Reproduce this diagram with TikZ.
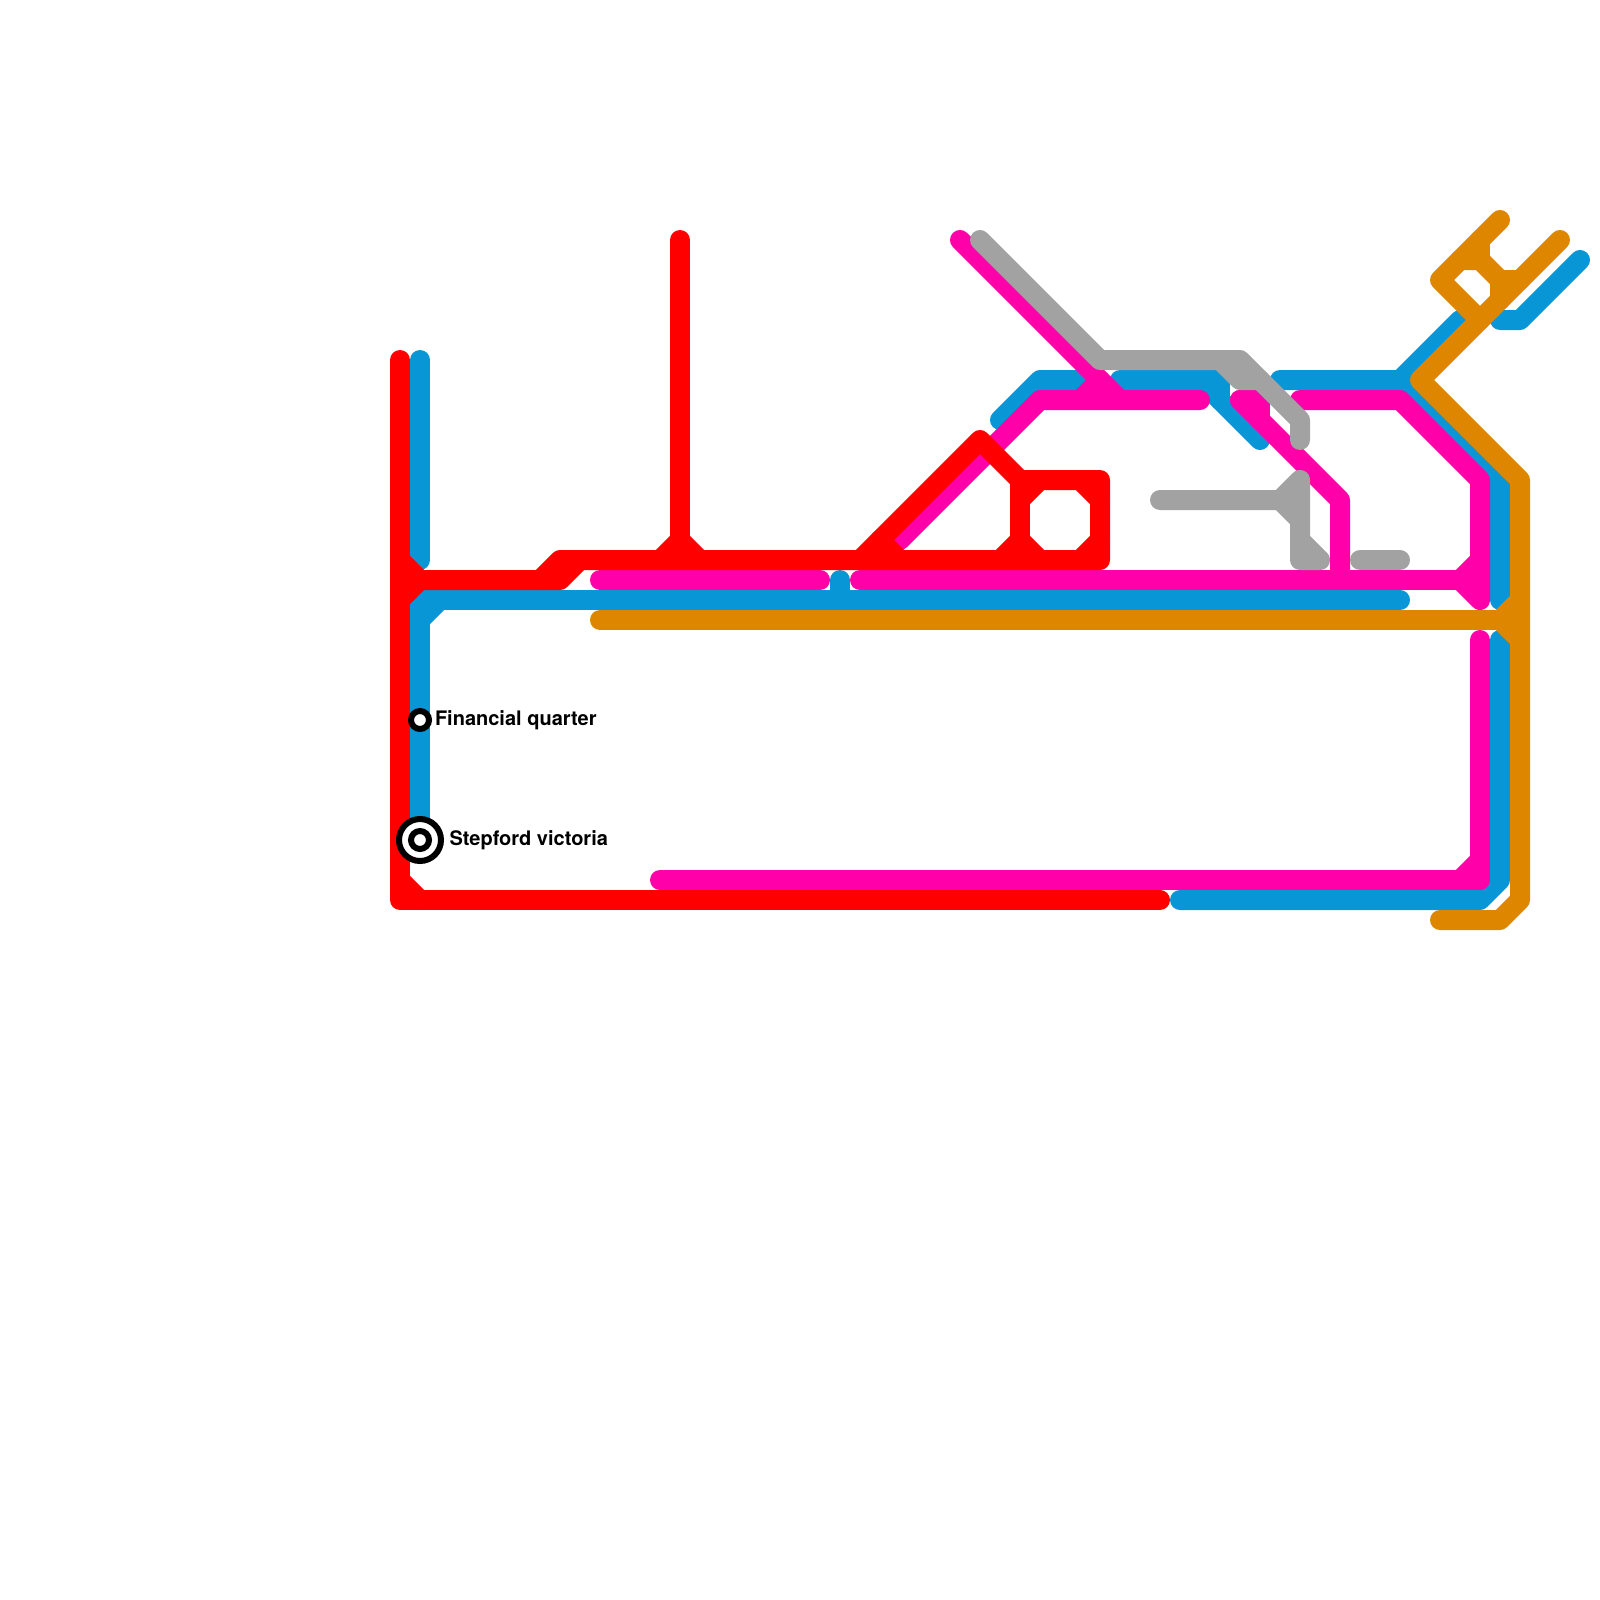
\documentclass[tikz,border=0pt]{standalone}
\usepackage{fontspec}
\setmainfont{TeX Gyre Heros}
\definecolor{mred}{HTML}{FF0000}
\definecolor{mblue}{HTML}{0896D7}
\definecolor{mpink}{HTML}{FF00A9}
\definecolor{mgray}{HTML}{A2A2A2}
\definecolor{morange}{HTML}{DF8600}
\tikzset{
  metro/.style={line width=10pt,line cap=round,line join=round},
  redline/.style={metro,draw=mred},
  blueline/.style={metro,draw=mblue},
  pinkline/.style={metro,draw=mpink},
  grayline/.style={metro,draw=mgray},
  orangeline/.style={metro,draw=morange},
  minorstop/.style={circle,draw=black,fill=white,line width=3pt,minimum size=9pt,inner sep=0pt},
  majorstop/.style={circle,draw=black,fill=white,line width=3pt,minimum size=21pt,inner sep=0pt},
  stoplabel/.style={font=\bfseries\fontsize{10pt}{12pt}\selectfont,text=black,anchor=base west,inner sep=0pt,outer sep=0pt}
}
\begin{document}
\begin{tikzpicture}[x=0.5pt,y=-0.5pt]
\useasboundingbox (0,0) rectangle (1600,1600);
% blue
\draw[blueline] (420,360) -- (420,560);
\draw[blueline] (420,840) -- (420,600) -- (1400,600);
\draw[blueline] (420,620) -- (440,600);
\draw[blueline] (840,580) -- (840,600);
\draw[blueline] (1000,420) -- (1040,380) -- (1080,380);
\draw[blueline] (1120,380) -- (1220,380) -- (1220,400);
\draw[blueline] (1200,380) -- (1260,440);
\draw[blueline] (1280,380) -- (1400,380) -- (1460,320);
\draw[blueline] (1500,320) -- (1520,320) -- (1580,260);
\draw[blueline] (1400,380) -- (1500,480) -- (1500,600);
\draw[blueline] (1500,640) -- (1500,880) -- (1480,900) -- (1180,900);
% pink
\draw[pinkline] (960,240) -- (1120,400);
\draw[pinkline] (1080,400) -- (1100,380);
\draw[pinkline] (900,540) -- (1040,400) -- (1200,400);
\draw[pinkline] (600,580) -- (820,580);
\draw[pinkline] (860,580) -- (1480,580);
\draw[pinkline] (1300,400) -- (1400,400) -- (1480,480) -- (1480,600) -- (1460,580) -- (1480,560);
\draw[pinkline] (1240,400) -- (1260,400) -- (1260,420);
\draw[pinkline] (1240,400) -- (1340,500) -- (1340,580);
\draw[pinkline] (660,880) -- (1480,880) -- (1480,640);
\draw[pinkline] (1460,880) -- (1480,860);
% gray
\draw[grayline] (980,240) -- (1100,360) -- (1240,360) -- (1300,420) -- (1300,440);
\draw[grayline] (1220,360) -- (1240,380) -- (1260,380);
\draw[grayline] (1160,500) -- (1280,500) -- (1300,480) -- (1300,560) -- (1320,560) -- (1300,540);
\draw[grayline] (1280,500) -- (1300,520);
\draw[grayline] (1360,560) -- (1400,560);
% red
\draw[redline] (400,360) -- (400,900) -- (1160,900);
\draw[redline] (400,880) -- (420,900);
\draw[redline] (400,560) -- (420,580) -- (400,600);
\draw[redline] (400,580) -- (560,580) -- (580,560);
\draw[redline] (540,580) -- (560,560) -- (1100,560) -- (1100,480) -- (1020,480) -- (980,440) -- (860,560);
\draw[redline] (680,240) -- (680,560);
\draw[redline] (660,560) -- (680,540) -- (700,560);
\draw[redline] (880,540) -- (900,560);
\draw[redline] (1020,480) -- (1020,560);
\draw[redline] (1000,560) -- (1020,540) -- (1040,560);
\draw[redline] (1020,500) -- (1040,480);
\draw[redline] (1080,480) -- (1100,500);
\draw[redline] (1100,540) -- (1080,560);
% orange
\draw[orangeline] (600,620) -- (1520,620);
\draw[orangeline] (1500,620) -- (1520,600);
\draw[orangeline] (1500,620) -- (1520,640);
\draw[orangeline] (1440,920) -- (1500,920) -- (1520,900) -- (1520,480) -- (1420,380) -- (1560,240);
\draw[orangeline] (1500,220) -- (1440,280) -- (1480,320);
\draw[orangeline] (1460,260) -- (1480,260) -- (1500,280) -- (1500,300);
\draw[orangeline] (1500,280) -- (1520,280);
\draw[orangeline] (1480,240) -- (1480,260);
% stations
\node[minorstop] (fin) at (420,720) {};
\node[majorstop] (ste) at (420,840) {};
\node[minorstop] (stei) at (420,840) {};
\node[stoplabel] (finl) at (435,725) {Financial quarter};
\node[stoplabel] (stel) at (449.5,845) {Stepford victoria};
\end{tikzpicture}
\end{document}
